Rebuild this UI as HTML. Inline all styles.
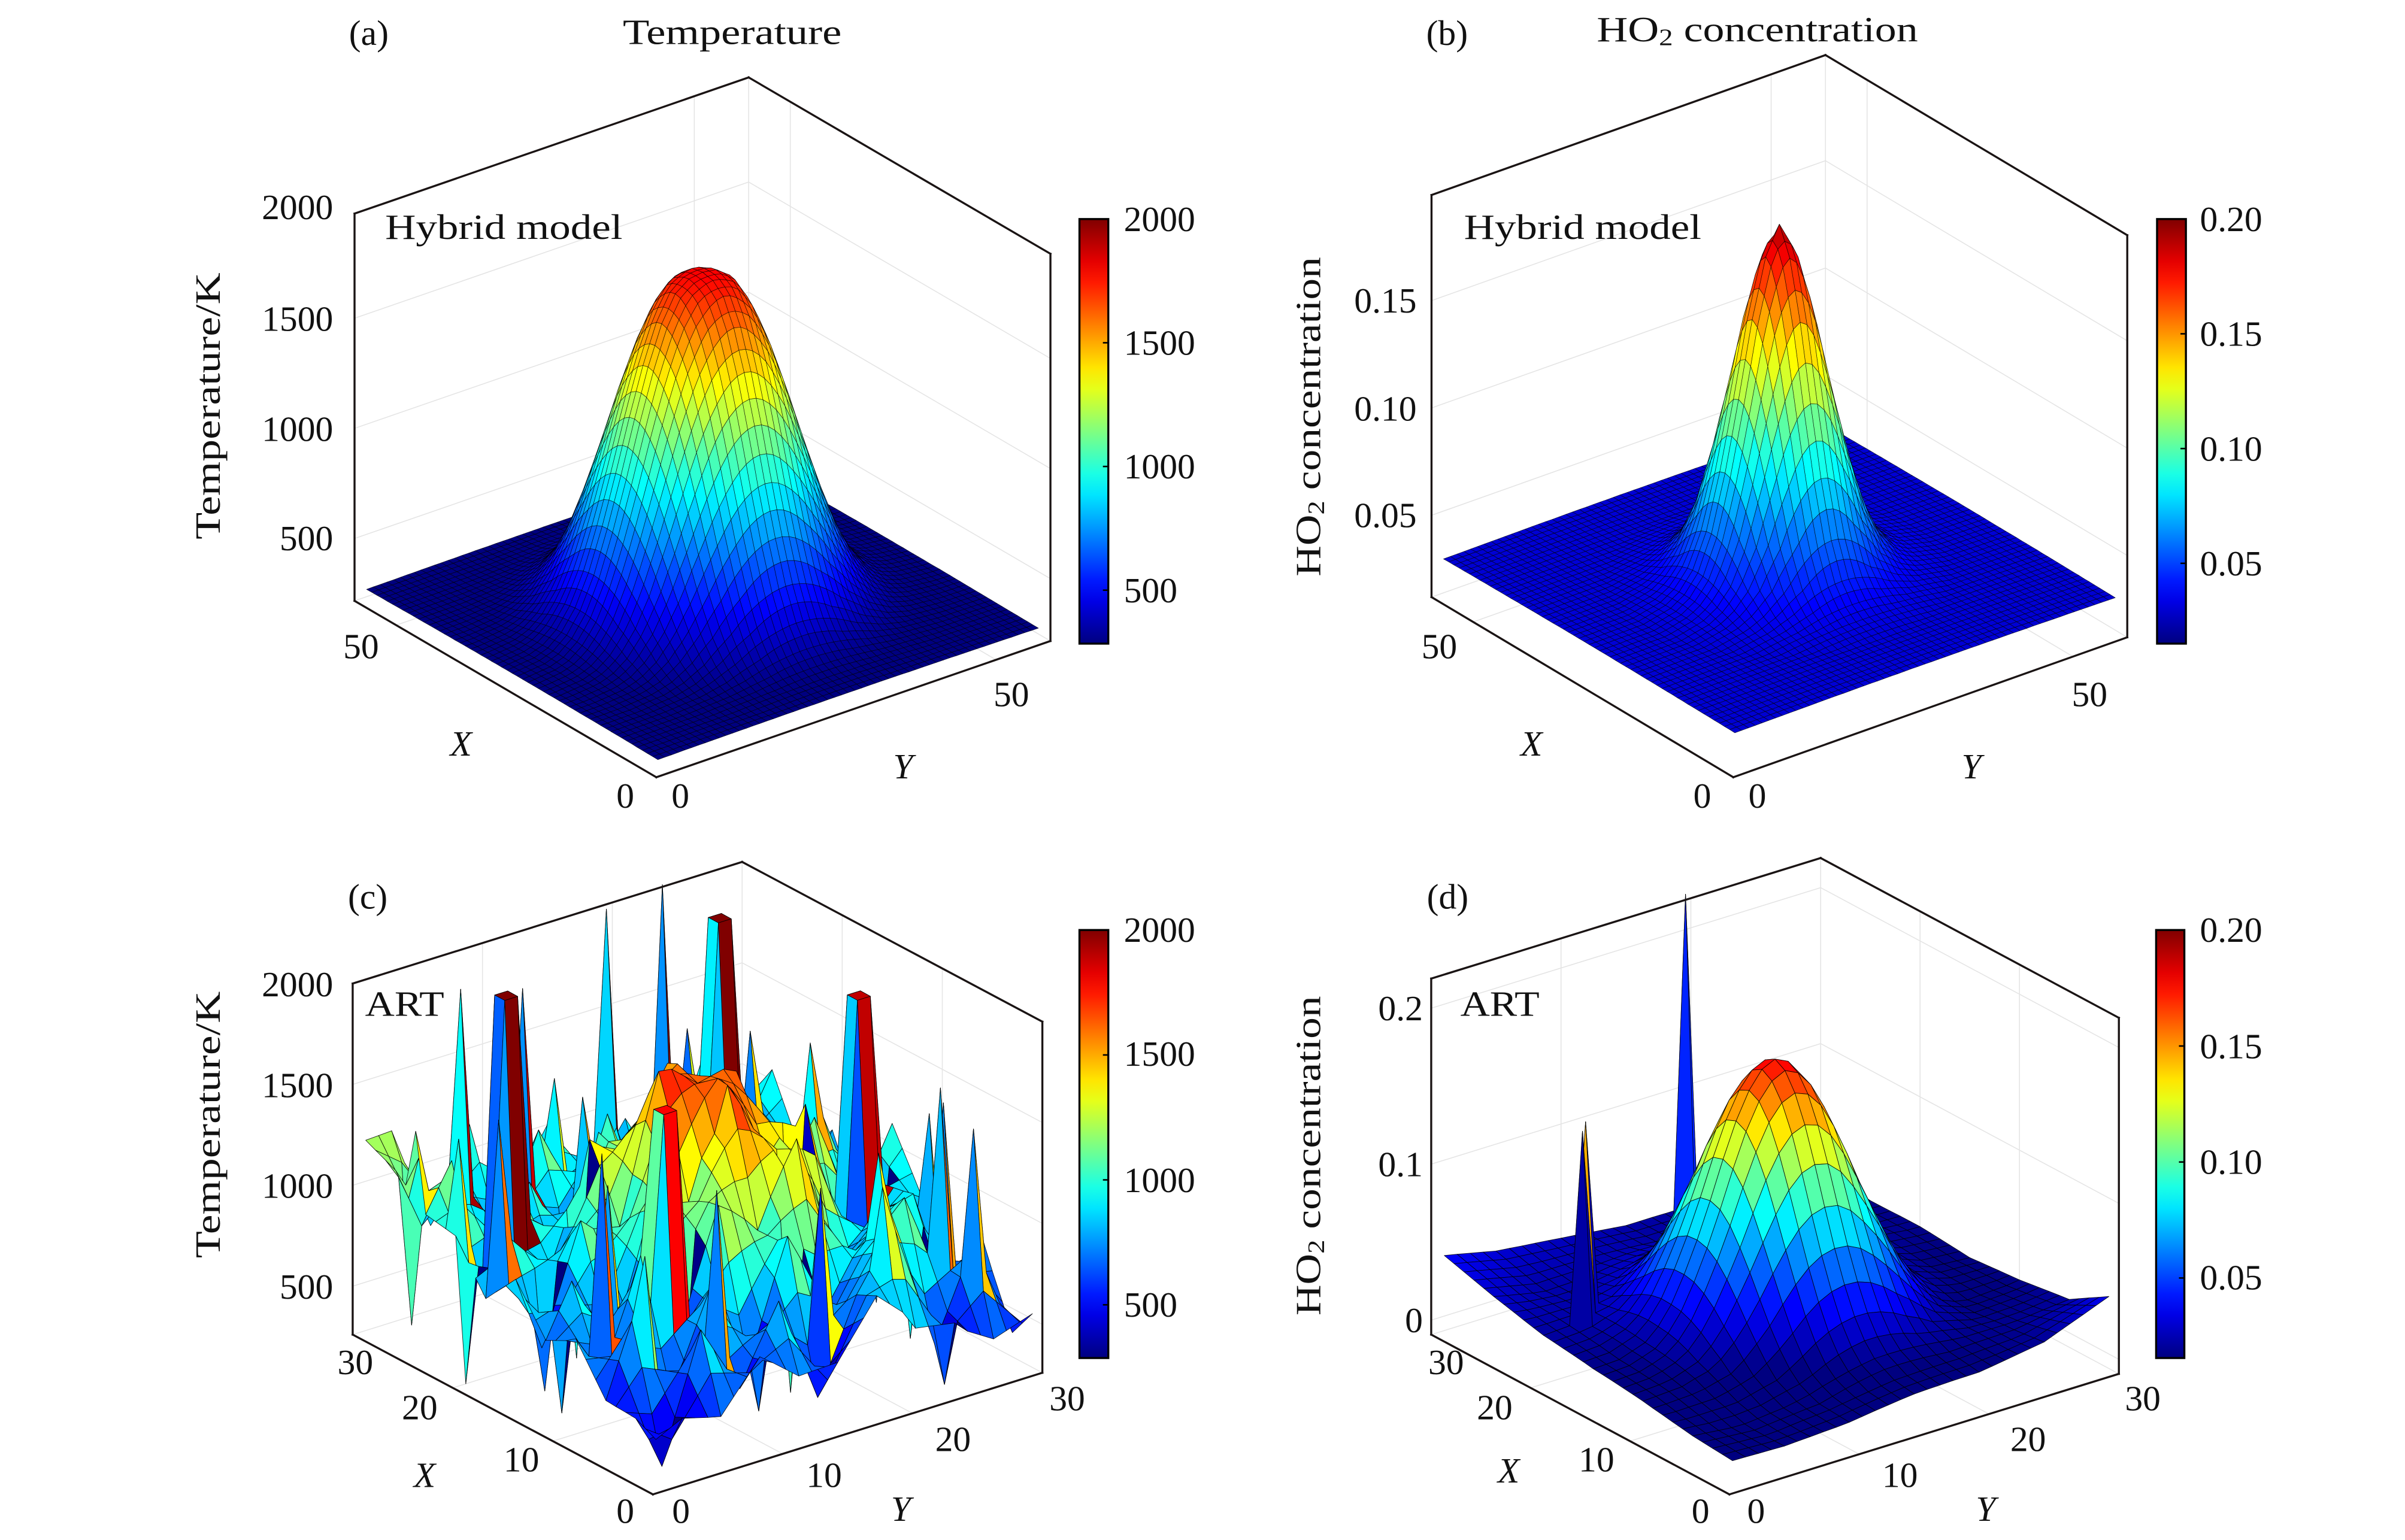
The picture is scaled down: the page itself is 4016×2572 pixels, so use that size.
<!DOCTYPE html>
<html><head><meta charset="utf-8"><title>Temperature and HO2 surfaces</title>
<style>
html,body{margin:0;padding:0;background:#fff;}
svg{display:block;}
text{font-family:"Liberation Serif","DejaVu Serif",serif;fill:#111;}
</style></head>
<body>
<svg id="fig" xmlns="http://www.w3.org/2000/svg" width="4016" height="2572" viewBox="0 0 1550 992.7" preserveAspectRatio="none">
<defs>
<linearGradient id="jetgrad" x1="0" y1="1" x2="0" y2="0"></linearGradient>
</defs>
<g id="layer-grid"></g>
<g id="layer-surf"></g>
<g id="layer-box"></g>

<!-- Panel a texts -->
<g font-size="23">
<text x="237.7" y="21.3" text-anchor="middle" dominant-baseline="central">(a)</text>
<text x="471.9" y="20.7" text-anchor="middle" dominant-baseline="central" textLength="141" lengthAdjust="spacingAndGlyphs">Temperature</text>
<text x="248.2" y="146.3" dominant-baseline="central" textLength="153" lengthAdjust="spacingAndGlyphs">Hybrid model</text>
<text transform="translate(134,261.7) rotate(-90)" text-anchor="middle" dominant-baseline="central" textLength="172" lengthAdjust="spacingAndGlyphs">Temperature/K</text>
<g text-anchor="end" dominant-baseline="central">
<text x="214.7" y="133.6">2000</text>
<text x="214.7" y="205.5">1500</text>
<text x="214.7" y="276.5">1000</text>
<text x="214.7" y="347">500</text>
</g>
<g text-anchor="middle" dominant-baseline="central">
<text x="232.7" y="416.6">50</text>
<text x="403" y="513">0</text>
<text x="438.5" y="513">0</text>
<text x="651.8" y="447.6">50</text>
<text x="297.1" y="479.3" font-style="italic">X</text>
<text x="582" y="494" font-style="italic">Y</text>
</g>
<g dominant-baseline="central">
<text x="724.3" y="141.2">2000</text>
<text x="724.3" y="221">1500</text>
<text x="724.3" y="300.6">1000</text>
<text x="724.3" y="380.5">500</text>
</g>
</g>

<!-- Panel b texts -->
<g font-size="23">
<text x="932.6" y="21.3" text-anchor="middle" dominant-baseline="central">(b)</text>
<text x="1132.6" y="18.9" text-anchor="middle" dominant-baseline="central" textLength="207" lengthAdjust="spacingAndGlyphs">HO<tspan font-size="15" dy="5">2</tspan><tspan dy="-5"> concentration</tspan></text>
<text x="943.5" y="146.3" dominant-baseline="central" textLength="153" lengthAdjust="spacingAndGlyphs">Hybrid model</text>
<text transform="translate(843.1,268.6) rotate(-90)" text-anchor="middle" dominant-baseline="central" textLength="206" lengthAdjust="spacingAndGlyphs">HO<tspan font-size="15" dy="5">2</tspan><tspan dy="-5"> concentration</tspan></text>
<g text-anchor="end" dominant-baseline="central">
<text x="913" y="193.8">0.15</text>
<text x="913" y="263.4">0.10</text>
<text x="913" y="332.2">0.05</text>
</g>
<g text-anchor="middle" dominant-baseline="central">
<text x="927.6" y="416.6">50</text>
<text x="1097.1" y="513">0</text>
<text x="1132.6" y="513">0</text>
<text x="1346.7" y="447.6">50</text>
<text x="987" y="479.3" font-style="italic">X</text>
<text x="1270.6" y="494" font-style="italic">Y</text>
</g>
<g dominant-baseline="central">
<text x="1417.8" y="141.2">0.20</text>
<text x="1417.8" y="215.2">0.15</text>
<text x="1417.8" y="289.2">0.10</text>
<text x="1417.8" y="363.2">0.05</text>
</g>
</g>

<!-- Panel c texts -->
<g font-size="23">
<text x="237" y="578" text-anchor="middle" dominant-baseline="central">(c)</text>
<text x="235.3" y="647.1" dominant-baseline="central" textLength="51" lengthAdjust="spacingAndGlyphs">ART</text>
<text transform="translate(134,725) rotate(-90)" text-anchor="middle" dominant-baseline="central" textLength="172" lengthAdjust="spacingAndGlyphs">Temperature/K</text>
<g text-anchor="end" dominant-baseline="central">
<text x="214.7" y="634.5">2000</text>
<text x="214.7" y="699.5">1500</text>
<text x="214.7" y="764.5">1000</text>
<text x="214.7" y="829.5">500</text>
</g>
<g text-anchor="middle" dominant-baseline="central">
<text x="229" y="878">30</text>
<text x="270.5" y="907.3">20</text>
<text x="336" y="940.7">10</text>
<text x="403" y="974">0</text>
<text x="438.9" y="974">0</text>
<text x="531.1" y="950.9">10</text>
<text x="614.2" y="927.6">20</text>
<text x="687.8" y="901.5">30</text>
<text x="273.7" y="950.9" font-style="italic">X</text>
<text x="580.6" y="972.6" font-style="italic">Y</text>
</g>
<g dominant-baseline="central">
<text x="724.3" y="599.5">2000</text>
<text x="724.3" y="679.3">1500</text>
<text x="724.3" y="760.8">1000</text>
<text x="724.3" y="841">500</text>
</g>
</g>

<!-- Panel d texts -->
<g font-size="23">
<text x="933" y="578" text-anchor="middle" dominant-baseline="central">(d)</text>
<text x="941.2" y="647" dominant-baseline="central" textLength="51" lengthAdjust="spacingAndGlyphs">ART</text>
<text transform="translate(843.1,745) rotate(-90)" text-anchor="middle" dominant-baseline="central" textLength="206" lengthAdjust="spacingAndGlyphs">HO<tspan font-size="15" dy="5">2</tspan><tspan dy="-5"> concentration</tspan></text>
<g text-anchor="end" dominant-baseline="central">
<text x="917" y="650">0.2</text>
<text x="917" y="750.5">0.1</text>
<text x="917" y="851">0</text>
</g>
<g text-anchor="middle" dominant-baseline="central">
<text x="932" y="878">30</text>
<text x="963.3" y="907.3">20</text>
<text x="1028.9" y="940.7">10</text>
<text x="1096" y="974">0</text>
<text x="1131.8" y="974">0</text>
<text x="1224.5" y="950.9">10</text>
<text x="1307.1" y="927.6">20</text>
<text x="1381" y="901.5">30</text>
<text x="972.3" y="948" font-style="italic">X</text>
<text x="1279.8" y="972.6" font-style="italic">Y</text>
</g>
<g dominant-baseline="central">
<text x="1417.8" y="599.5">0.20</text>
<text x="1417.8" y="674.5">0.15</text>
<text x="1417.8" y="749">0.10</text>
<text x="1417.8" y="823.5">0.05</text>
</g>
</g>
</svg>

<script>
// ---------- data ----------
// (a) hybrid temperature: radial profile around the hot spot
const aRadius = [0, 2, 4, 6, 8, 10, 12, 14, 16, 18, 20, 22, 24, 28, 40];
const aTemp   = [1800, 1790, 1745, 1630, 1455, 1240, 1005, 785, 595, 455, 365, 315, 292, 278, 272];
const aCenter = [29, 29];
// (b) hybrid HO2: radial profile
const bRadius = [0, 2, 4, 6, 8, 10, 12, 14, 16, 20, 40];
const bConc   = [0.195, 0.182, 0.155, 0.12, 0.088, 0.062, 0.046, 0.038, 0.034, 0.031, 0.030];
const bCenter = [29, 29];
// (c) ART temperature: mound profile + coarse base deviation (x,y step 5) + noise (x,y step 3) + spikes
const cRadius = [0, 2, 4, 6, 8, 10, 12, 16];
const cMound  = [1650, 1560, 1380, 1150, 960, 860, 800, 800];
const cCenter = [15, 15];
const cBaseDev = [
  [-350, -300, -250, -200, -150, -300, -300],
  [-250, -200, -100, -100, 0, -100, -250],
  [-150, -100, 0, 0, 100, 0, -150],
  [0, 50, 0, 0, 50, 100, 0],
  [100, 0, -50, 0, -100, 0, -50],
  [200, 100, 0, 0, -100, -50, 0],
  [300, 150, 50, 0, -50, 0, 0]
];
const cNoise = [
  [-100, 200, -200, 300, -150, 100, 250, -200, 150, -250, 100],
  [150, -250, 300, -100, 250, -300, 100, 350, -200, 300, -150],
  [-200, 300, -150, 200, -300, 250, -200, 100, 350, -100, 200],
  [250, -100, 350, -250, 150, -100, 300, -250, 100, 250, -300],
  [-150, 200, -300, 100, -200, 200, -150, 300, -300, 150, 100],
  [300, -300, 150, -150, 250, -50, 100, -200, 250, -150, 300],
  [-250, 150, -100, 300, -100, 150, -300, 200, -100, 300, -200],
  [200, -200, 250, -300, 200, -250, 150, -100, 300, -250, 150],
  [-100, 300, -200, 150, -250, 300, -200, 250, -150, 200, -100],
  [250, -150, 100, -200, 300, -100, 250, -300, 200, -100, 250],
  [100, 200, -250, 250, -150, 200, -100, 150, -250, 300, 0]
];
const cSpikeX = [27, 20, 21, 20, 21, 26, 28, 25, 22, 23, 22, 23, 12, 13, 12, 13, 8, 9, 8, 9, 5, 6, 25,
  3, 4, 5, 6, 7, 9, 10, 11, 3, 2, 6, 8, 13, 16, 18, 20, 22, 24, 26, 28, 18, 20, 24, 28, 30, 10, 12, 16, 18, 14, 10, 20, 24, 29, 4, 12, 3];
const cSpikeY = [6, 4, 4, 5, 5, 10, 18, 20, 22, 22, 23, 23, 25, 25, 26, 26, 7, 7, 8, 8, 26, 27, 1,
  3, 8, 12, 4, 16, 3, 10, 5, 20, 24, 22, 26, 3, 4, 2, 1, 2, 4, 2, 3, 8, 10, 12, 14, 10, 18, 14, 22, 26, 28, 29, 28, 26, 25, 16, 20, 27];
const cSpikeV = [1930, 2100, 2100, 2100, 2100, 1880, 2060, 2220, 2070, 2070, 2070, 2070, 1890, 1890, 1890, 1890, 1790, 1790, 1790, 1790, 1620, 1500, 1380,
  260, 1500, 300, 1200, 260, 1650, 300, 1400, 1300, 270, 1350, 300, 260, 270, 1600, 260, 1400, 300, 1200, 300, 300, 1500, 350, 1300, 300, 270, 1450, 300, 1500, 280, 1300, 300, 1400, 1300, 1350, 400, 1450];
// (d) ART HO2: mound profile + coarse base (x,y step 5) + spikes
const dRadius = [0, 1, 2, 3, 4, 5, 6, 7, 8, 9, 10, 12, 15, 25];
const dConc   = [0.18, 0.175, 0.163, 0.145, 0.122, 0.097, 0.073, 0.052, 0.034, 0.021, 0.012, 0.005, 0.002, 0];
const dCenter = [15, 15];
const dBase = [
  [0.005, 0.004, 0.006, 0.010, 0.012, 0.020, 0.040],
  [0.008, 0.003, 0.004, 0.010, 0.012, 0.015, 0.020],
  [0.012, 0.010, 0.005, 0.005, 0.010, 0.008, 0.015],
  [0.015, 0.012, 0.005, 0.000, 0.005, 0.010, 0.012],
  [0.020, 0.018, 0.010, 0.005, 0.010, 0.015, 0.015],
  [0.030, 0.020, 0.018, 0.015, 0.015, 0.015, 0.015],
  [0.040, 0.030, 0.025, 0.020, 0.020, 0.020, 0.020]
];
const dSpikeX = [24, 20, 21];
const dSpikeY = [15, 4, 5];
const dSpikeV = [0.255, 0.145, 0.145];

// ---------- helpers ----------
const NS = 'http://www.w3.org/2000/svg';
const gGrid = document.getElementById('layer-grid');
const gSurf = document.getElementById('layer-surf');
const gBox = document.getElementById('layer-box');

function jet(t) {
  t = Math.max(0, Math.min(1, t));
  const f = v => Math.round(255 * Math.max(0, Math.min(1, v)));
  return 'rgb(' + f(1.5 - Math.abs(4 * t - 3)) + ',' + f(1.5 - Math.abs(4 * t - 2)) + ',' + f(1.5 - Math.abs(4 * t - 1)) + ')';
}
function interp(xs, ys, x) {
  if (x <= xs[0]) return ys[0];
  for (let k = 1; k < xs.length; k++) {
    if (x <= xs[k]) { const u = (x - xs[k - 1]) / (xs[k] - xs[k - 1]); return ys[k - 1] + u * (ys[k] - ys[k - 1]); }
  }
  return ys[ys.length - 1];
}
function bil(M, x, y, step) {
  const n = M.length - 1;
  let fx = Math.min(n - 1e-9, Math.max(0, x / step)), fy = Math.min(n - 1e-9, Math.max(0, y / step));
  const i = Math.floor(fx), j = Math.floor(fy), u = fx - i, v = fy - j;
  return M[i][j] * (1 - u) * (1 - v) + M[i + 1][j] * u * (1 - v) + M[i][j + 1] * (1 - u) * v + M[i + 1][j + 1] * u * v;
}
function spikeMap(xs, ys, vs) {
  const m = {};
  for (let k = 0; k < xs.length; k++) m[xs[k] + ',' + ys[k]] = vs[k];
  return m;
}

const grad = document.getElementById('jetgrad');
for (let k = 0; k <= 20; k++) {
  const s = document.createElementNS(NS, 'stop');
  s.setAttribute('offset', (k / 20).toFixed(3));
  s.setAttribute('stop-color', jet(k / 20));
  grad.appendChild(s);
}

function line(g, p, q, color, w, name) {
  const l = document.createElementNS(NS, 'line');
  l.setAttribute('x1', p[0]); l.setAttribute('y1', p[1]);
  l.setAttribute('x2', q[0]); l.setAttribute('y2', q[1]);
  l.setAttribute('stroke', color); l.setAttribute('stroke-width', w);
  l.setAttribute('stroke-linecap', 'square');
  
  
  g.appendChild(l);
}

function panel(cfg, zfun) {
  const P = (x, y, z) => [
    cfg.front[0] + cfg.L[0] * x / cfg.xmax + cfg.R[0] * y / cfg.ymax,
    cfg.front[1] + cfg.L[1] * x / cfg.xmax + cfg.R[1] * y / cfg.ymax - (z - cfg.zmin) / (cfg.zmax - cfg.zmin) * cfg.H
  ];
  const X = cfg.xmax, Y = cfg.ymax, z0 = cfg.zmin, z1 = cfg.zmax;
  const gc = '#e4e4e4';
  cfg.zgrid.forEach(z => {
    line(gGrid, P(X, 0, z), P(X, Y, z), gc, 0.6, 'z-gridline');
    line(gGrid, P(0, Y, z), P(X, Y, z), gc, 0.6, 'z-gridline');
  });
  cfg.xygrid.forEach(v => {
    line(gGrid, P(X, v, z0), P(X, v, z1), gc, 0.6, 'y-gridline');
    line(gGrid, P(v, Y, z0), P(v, Y, z1), gc, 0.6, 'x-gridline');
    line(gGrid, P(0, v, z0), P(X, v, z0), gc, 0.6, 'y-floor-gridline');
    line(gGrid, P(v, 0, z0), P(v, Y, z0), gc, 0.6, 'x-floor-gridline');
  });
  line(gGrid, P(X, Y, z0), P(X, Y, z1), gc, 0.6, 'back-edge');
  line(gGrid, P(X, 0, z0), P(X, Y, z0), gc, 0.6, 'back-floor-edge');
  line(gGrid, P(0, Y, z0), P(X, Y, z0), gc, 0.6, 'back-floor-edge');

  const gx = cfg.grid, n = gx.length;
  const Z = [];
  for (let i = 0; i < n; i++) { Z.push([]); for (let j = 0; j < n; j++) Z[i].push(zfun(gx[i], gx[j])); }
  const faces = [];
  for (let i = 0; i < n - 1; i++) for (let j = 0; j < n - 1; j++) {
    const xc = (gx[i] + gx[i + 1]) / 2, yc = (gx[j] + gx[j + 1]) / 2;
    const depth = -(cfg.L[1] * xc / X + cfg.R[1] * yc / Y);
    faces.push([depth, i, j]);
  }
  faces.sort((a, b) => b[0] - a[0]);
  const g = document.createElementNS(NS, 'g');
  
  
  g.setAttribute('stroke', '#000');
  g.setAttribute('stroke-width', cfg.sw);
  g.setAttribute('stroke-opacity', cfg.so);
  g.setAttribute('stroke-linejoin', 'round');
  faces.forEach(f => {
    const i = f[1], j = f[2];
    const pts = [P(gx[i], gx[j], Z[i][j]), P(gx[i + 1], gx[j], Z[i + 1][j]), P(gx[i + 1], gx[j + 1], Z[i + 1][j + 1]), P(gx[i], gx[j + 1], Z[i][j + 1])];
    const cv = cfg.colorCorner === 'x1' ? Z[i + 1][j] : Z[i][j];
    const poly = document.createElementNS(NS, 'polygon');
    poly.setAttribute('points', pts.map(p => p[0].toFixed(1) + ',' + p[1].toFixed(1)).join(' '));
    poly.setAttribute('fill', jet((cv - cfg.cmin) / (cfg.cmax - cfg.cmin)));
    
    
    g.appendChild(poly);
  });
  gSurf.appendChild(g);

  const bk = '#1a1414', bw = 1.3;
  line(gBox, P(X, 0, z0), P(X, 0, z1), bk, bw, 'box-edge-left');
  line(gBox, P(X, 0, z1), P(X, Y, z1), bk, bw, 'box-edge-top');
  line(gBox, P(X, Y, z1), P(0, Y, z1), bk, bw, 'box-edge-top');
  line(gBox, P(0, Y, z0), P(0, Y, z1), bk, bw, 'box-edge-right');
  line(gBox, P(X, 0, z0), P(0, 0, z0), bk, bw, 'x-axis-line');
  line(gBox, P(0, 0, z0), P(0, Y, z0), bk, bw, 'y-axis-line');

  const cb = document.createElementNS(NS, 'rect');
  cb.setAttribute('x', cfg.cb[0]); cb.setAttribute('y', cfg.cb[1]);
  cb.setAttribute('width', cfg.cb[2]); cb.setAttribute('height', cfg.cb[3]);
  cb.setAttribute('fill', 'url(#jetgrad)');
  cb.setAttribute('stroke', '#000'); cb.setAttribute('stroke-width', 1.3);
  
  
  gBox.appendChild(cb);
  cfg.cbTicks.forEach(v => {
    const yy = cfg.cb[1] + cfg.cb[3] * (1 - (v - cfg.cmin) / (cfg.cmax - cfg.cmin));
    const xr = cfg.cb[0] + cfg.cb[2];
    line(gBox, [xr - 3, yy], [xr, yy], '#000', 1, 'colorbar-tick-mark');
  });
}

const grid57 = []; for (let k = 1; k <= 57; k++) grid57.push(k);
const grid30 = []; for (let k = 1; k <= 30; k++) grid30.push(k);

panel({ name: 'panel-a', front: [423, 501], L: [-194.5, -113.7], R: [254, -87.8], H: 249.6,
  zmin: 217, zmax: 1975, cmin: 284, cmax: 2000, xmax: 58, ymax: 58, grid: grid57,
  zgrid: [500, 1000, 1500], xygrid: [50], cb: [695.7, 141.2, 18.6, 273.7], cbTicks: [500, 1000, 1500], sw: 0.28, so: 0.75 },
  (x, y) => interp(aRadius, aTemp, Math.hypot(x - aCenter[0], y - aCenter[1])));

panel({ name: 'panel-b', front: [1117.1, 501], L: [-194.5, -116.1], R: [253.9, -90.2], H: 259.2,
  zmin: 0.0119, zmax: 0.1992, cmin: 0.015, cmax: 0.2, xmax: 58, ymax: 58, grid: grid57,
  zgrid: [0.05, 0.10, 0.15], xygrid: [50], cb: [1390.2, 141.2, 18.6, 273.7], cbTicks: [0.05, 0.10, 0.15], sw: 0.28, so: 0.75 },
  (x, y) => interp(bRadius, bConc, Math.hypot(x - bCenter[0], y - bCenter[1])));

const cSp = spikeMap(cSpikeX, cSpikeY, cSpikeV);
panel({ name: 'panel-c', front: [420.8, 963.3], L: [-193.5, -103], R: [251, -78.4], H: 226.3,
  zmin: 260, zmax: 2000, cmin: 287, cmax: 2000, xmax: 30, ymax: 30, grid: grid30, colorCorner: 'x1',
  zgrid: [500, 1000, 1500], xygrid: [10, 20], cb: [695.7, 599.5, 18.6, 275.9], cbTicks: [500, 1000, 1500], sw: 0.35, so: 0.85 },
  (x, y) => {
    const k = x + ',' + y;
    if (k in cSp) return cSp[k];
    return Math.max(260, interp(cRadius, cMound, Math.hypot(x - cCenter[0], y - cCenter[1])) + bil(cBaseDev, x, y, 5) + bil(cNoise, x, y, 3));
  });

const dSp = spikeMap(dSpikeX, dSpikeY, dSpikeV);
panel({ name: 'panel-d', front: [1114.6, 963.3], L: [-192.2, -103], R: [251, -77.7], H: 229.5,
  zmin: -0.0093, zmax: 0.219, cmin: 0.0155, cmax: 0.2, xmax: 30, ymax: 30, grid: grid30,
  zgrid: [0, 0.1, 0.2], xygrid: [10, 20], cb: [1389.6, 599.5, 18.2, 275.9], cbTicks: [0.05, 0.10, 0.15], sw: 0.35, so: 0.85 },
  (x, y) => {
    const k = x + ',' + y;
    if (k in dSp) return dSp[k];
    return interp(dRadius, dConc, Math.hypot(x - dCenter[0], y - dCenter[1])) + bil(dBase, x, y, 5);
  });
</script>
</body></html>
